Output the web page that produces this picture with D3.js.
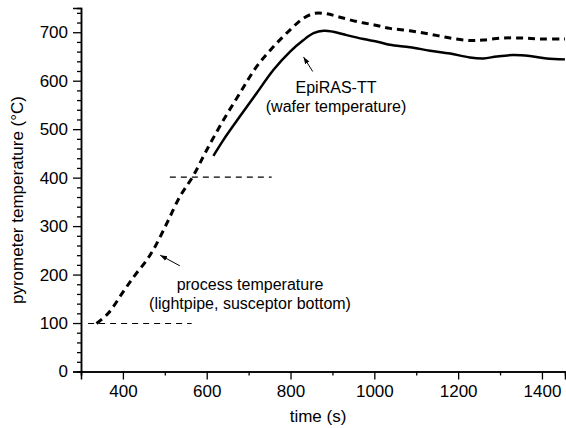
<!DOCTYPE html>
<html lang="en">
<head>
  <meta charset="UTF-8">
  <title>Pyrometer temperature vs time</title>
  <script src="https://d3js.org/d3.v7.min.js"></script>
  <style>
    body { margin: 0; overflow: hidden; background: #fff; }
    svg { display: block; font-family: "Liberation Sans", Arial, sans-serif; }
  </style>
</head>
<body>
  <svg id="chart" width="566" height="428"></svg>

  <script>
    // process temperature (lightpipe, susceptor bottom) - dashed
    const processTime = [337, 365, 401, 429, 457, 477, 505, 536, 568, 600, 640, 679, 719, 759, 799, 831, 858, 886, 918, 958, 1000, 1037, 1085, 1133, 1181, 1228, 1260, 1308, 1356, 1403, 1455];
    const processTemp = [99, 120, 165, 199, 230, 258, 306, 361, 404, 457, 519, 574, 629, 670, 705, 729, 739, 738, 731, 722, 715, 708, 703, 696, 688, 683, 684, 688, 688, 686, 686];

    // EpiRAS-TT (wafer temperature) - solid
    const waferTime = [616, 640, 679, 719, 759, 799, 831, 855, 879, 902, 934, 974, 1010, 1037, 1085, 1133, 1181, 1228, 1260, 1292, 1331, 1371, 1411, 1455];
    const waferTemp = [445, 478, 526, 574, 622, 660, 684, 698, 703, 701, 694, 686, 680, 674, 669, 662, 656, 648, 646, 650, 653, 651, 646, 644];

    // horizontal reference levels [t0, t1, value]
    const refLines = [[317, 564, 99], [512, 755, 401]];

    const xTicks = [400, 600, 800, 1000, 1200, 1400];
    const xMinor = [300, 500, 700, 900, 1100, 1300];
    const yTicks = [0, 100, 200, 300, 400, 500, 600, 700];
    const yMinor = d3.range(0, 751, 20).filter(v => v % 100 !== 0);

    const svg = d3.select("#chart");

    const x = d3.scaleLinear().domain([300, 1455]).range([81, 565]);
    const y = d3.scaleLinear().domain([0, 750]).range([371.5, 8]);

    // axes (minor and major ticks in separate groups)
    svg.append("g").attr("transform", "translate(0," + y(0) + ")")
      .call(d3.axisBottom(x).tickValues(xMinor).tickSize(4).tickFormat(""));
    svg.append("g").attr("transform", "translate(0," + y(0) + ")")
      .call(d3.axisBottom(x).tickValues(xTicks).tickSize(8).tickPadding(5).tickFormat(d3.format("d")));

    svg.append("g").attr("transform", "translate(" + x(300) + ",0)")
      .call(d3.axisLeft(y).tickValues(yMinor).tickSize(4).tickFormat(""));
    svg.append("g").attr("transform", "translate(" + x(300) + ",0)")
      .call(d3.axisLeft(y).tickValues(yTicks).tickSize(8).tickPadding(5).tickFormat(d3.format("d")));

    svg.selectAll(".domain").attr("stroke", "#000").attr("stroke-width", 1.5);
    svg.selectAll(".tick line").attr("stroke", "#000").attr("stroke-width", 1.3);
    svg.selectAll(".tick text").attr("fill", "#000").attr("font-size", 17)
      .attr("font-family", "'Liberation Sans', Arial, sans-serif");

    svg.append("text")
      .attr("x", 318).attr("y", 422)
      .attr("text-anchor", "middle").attr("font-size", 17)
      .text("time (s)");

    svg.append("text")
      .attr("transform", "translate(23,200) rotate(-90)")
      .attr("text-anchor", "middle").attr("font-size", 17)
      .text("pyrometer temperature (\u00B0C)");

    // reference dashed lines
    svg.selectAll(".ref")
      .data(refLines)
      .enter().append("line")
      .attr("x1", d => x(d[0])).attr("x2", d => x(d[1]))
      .attr("y1", d => y(d[2])).attr("y2", d => y(d[2]))
      .attr("stroke", "#000").attr("stroke-width", 1.2)
      .attr("stroke-dasharray", "6,5");

    const line = d3.line()
      .x(d => x(d[0])).y(d => y(d[1]))
      .curve(d3.curveCatmullRom);

    svg.append("path")
      .datum(d3.zip(processTime, processTemp))
      .attr("d", line)
      .attr("fill", "none").attr("stroke", "#000")
      .attr("stroke-width", 3).attr("stroke-dasharray", "7,5");

    svg.append("path")
      .datum(d3.zip(waferTime, waferTemp))
      .attr("d", line)
      .attr("fill", "none").attr("stroke", "#000")
      .attr("stroke-width", 2.5);

    // arrows
    svg.append("defs").append("marker")
      .attr("id", "head")
      .attr("viewBox", "0 0 10 10").attr("refX", 10).attr("refY", 5)
      .attr("markerWidth", 7).attr("markerHeight", 7)
      .attr("markerUnits", "userSpaceOnUse")
      .attr("orient", "auto")
      .append("path").attr("d", "M0,1.5L10,5L0,8.5Z").attr("fill", "#000");

    const arrows = [[853, 619, 831, 649], [536, 218, 489, 240]];
    svg.selectAll(".arrow")
      .data(arrows)
      .enter().append("line")
      .attr("x1", d => x(d[0])).attr("y1", d => y(d[1]))
      .attr("x2", d => x(d[2])).attr("y2", d => y(d[3]))
      .attr("stroke", "#000").attr("stroke-width", 1)
      .attr("marker-end", "url(#head)");

    // annotations
    const notes = [
      [336, 93, "EpiRAS-TT"],
      [336, 112, "(wafer temperature)"],
      [250, 290, "process temperature"],
      [250, 309, "(lightpipe, susceptor bottom)"]
    ];
    svg.selectAll(".note")
      .data(notes)
      .enter().append("text")
      .attr("x", d => d[0]).attr("y", d => d[1])
      .attr("text-anchor", "middle").attr("font-size", 16)
      .text(d => d[2]);
  </script>
</body>
</html>
